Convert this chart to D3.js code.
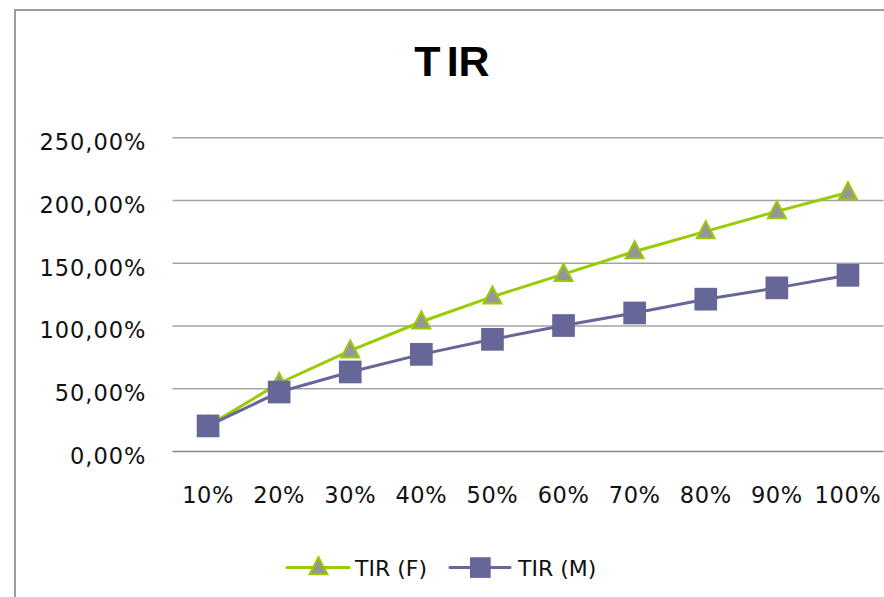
<!DOCTYPE html>
<html>
<head>
<meta charset="utf-8">
<script src="https://cdn.jsdelivr.net/npm/d3@7/dist/d3.min.js"></script>
<style>
  html, body { margin: 0; padding: 0; background: #fff; }
  svg { display: block; }
</style>
</head>
<body>
<svg id="chart" width="884" height="597"></svg>
<script>
// Categories along the x axis
const categories = ["10%", "20%", "30%", "40%", "50%", "60%", "70%", "80%", "90%", "100%"];
// Series values, in percent
const seriesF = [20, 54, 80, 103, 123, 141, 159, 175, 191, 206];
const seriesM = [20, 47, 63, 77, 89, 100, 110, 121, 130, 140];
// Series names
const seriesNames = ["TIR (F)", "TIR (M)"];
// Y axis tick values
const yTicks = [0, 50, 100, 150, 200, 250];
const chartTitle = "TIR";

const W = 884, H = 597;
const plot = { left: 172.5, right: 883.5, top: 137.3, bottom: 451 };
const colF = "#99cc00", colM = "#666699", markerGrey = "#969696";
const font = "'DejaVu Sans', Verdana, sans-serif";

const svg = d3.select("#chart");

// outer chart border
svg.append("rect")
  .attr("x", 15).attr("y", 10)
  .attr("width", W + 10).attr("height", H + 10)
  .attr("fill", "#fff").attr("stroke", "#9c9c9c").attr("stroke-width", 2);

// title
const title = svg.append("text")
  .attr("x", 452).attr("y", 76)
  .attr("text-anchor", "middle")
  .attr("font-family", "'Liberation Sans', Arial, sans-serif")
  .attr("font-weight", "bold")
  .attr("font-size", 43)
  .attr("fill", "#000");
title.append("tspan").text(chartTitle.slice(0, 1));
title.append("tspan").attr("dx", 6).text(chartTitle.slice(1));

const x = d3.scaleBand().domain(categories).range([plot.left, plot.right]).padding(0);
const cx = d => x(d) + x.bandwidth() / 2;
const y = d3.scaleLinear().domain([0, 250]).range([plot.bottom, plot.top]);

const fmt = v => v.toFixed(2).replace(".", ",") + "%";

// y axis with gridlines
const yAxis = svg.append("g")
  .attr("transform", `translate(${plot.left},0)`)
  .call(d3.axisLeft(y).tickValues(yTicks).tickFormat(fmt)
    .tickSize(-(plot.right - plot.left)).tickPadding(26));
yAxis.select(".domain").remove();
yAxis.selectAll(".tick line")
  .attr("stroke", d => d === 0 ? "#878787" : "#a3a3a3")
  .attr("stroke-width", 1.5);
yAxis.selectAll(".tick text")
  .attr("font-family", font).attr("font-size", 22.5)
  .attr("letter-spacing", 1)
  .attr("fill", "#111").attr("dy", "0.55em");

// x axis labels
const xAxis = svg.append("g")
  .attr("transform", `translate(0,${plot.bottom})`)
  .call(d3.axisBottom(x).tickSize(0).tickPadding(0));
xAxis.select(".domain").remove();
xAxis.selectAll(".tick text")
  .attr("font-family", font).attr("font-size", 22.5)
  .attr("letter-spacing", 0.6)
  .attr("fill", "#111").attr("y", 52).attr("dy", 0);

const line = d3.line().x((d, i) => cx(categories[i])).y(d => y(d));
const triSize = 20;
const triPath = (px, py, s) => {
  const h = s * 0.95;
  return `M${px},${py - h * 0.6}L${px + s / 2},${py + h * 0.4}L${px - s / 2},${py + h * 0.4}Z`;
};

// series F: line and triangle markers
svg.append("path").datum(seriesF)
  .attr("d", line).attr("fill", "none")
  .attr("stroke", colF).attr("stroke-width", 3).attr("stroke-linejoin", "round");
svg.append("g").selectAll("path").data(seriesF).join("path")
  .attr("d", (d, i) => triPath(cx(categories[i]), y(d), triSize - 2))
  .attr("fill", markerGrey).attr("stroke", colF).attr("stroke-width", 2);

// series M: line and square markers
const sq = 22.7;
svg.append("path").datum(seriesM)
  .attr("d", line).attr("fill", "none")
  .attr("stroke", colM).attr("stroke-width", 3).attr("stroke-linejoin", "round");
svg.append("g").selectAll("rect").data(seriesM).join("rect")
  .attr("x", (d, i) => cx(categories[i]) - sq / 2)
  .attr("y", d => y(d) - sq / 2)
  .attr("width", sq).attr("height", sq)
  .attr("fill", colM);

// legend
const legY = 567.5;
const leg = svg.append("g");
leg.append("line").attr("x1", 287).attr("x2", 349).attr("y1", legY).attr("y2", legY)
  .attr("stroke", colF).attr("stroke-width", 3).attr("stroke-linecap", "round");
leg.append("path").attr("d", triPath(318.5, legY, triSize - 2))
  .attr("fill", markerGrey).attr("stroke", colF).attr("stroke-width", 2);
leg.append("text").attr("x", 355).attr("y", legY + 8)
  .attr("font-family", font).attr("font-size", 22).attr("fill", "#111")
  .text(seriesNames[0]);

leg.append("line").attr("x1", 450).attr("x2", 510).attr("y1", legY).attr("y2", legY)
  .attr("stroke", colM).attr("stroke-width", 3).attr("stroke-linecap", "round");
leg.append("rect").attr("x", 470).attr("y", legY - 10.3).attr("width", 20.7).attr("height", 20.7)
  .attr("fill", colM);
leg.append("text").attr("x", 518).attr("y", legY + 8)
  .attr("font-family", font).attr("font-size", 22).attr("fill", "#111")
  .text(seriesNames[1]);
</script>
</body>
</html>
